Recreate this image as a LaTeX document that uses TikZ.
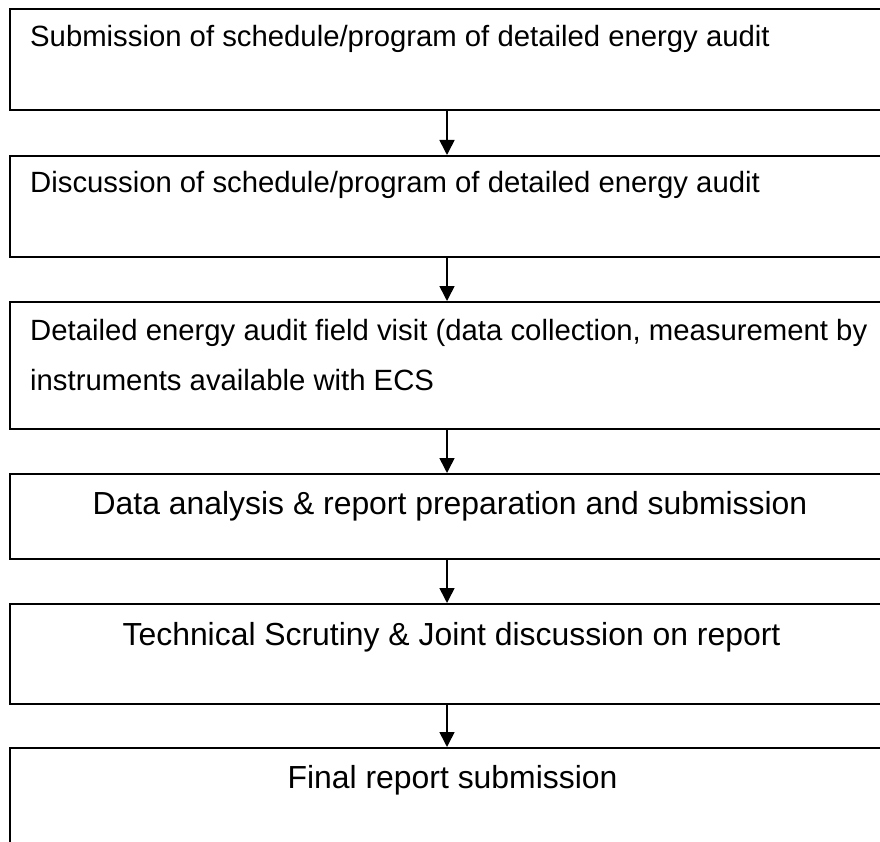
\documentclass[tikz,border=0pt]{standalone}
\usepackage{fontspec}
\setmainfont{Liberation Sans}
\usetikzlibrary{arrows.meta}
\begin{document}
\begin{tikzpicture}[x=1pt,y=-1pt,
  stepbox/.style={draw=black,line width=1.6pt,rectangle,anchor=north west,minimum width=900pt,inner sep=0pt},
  smalltxt/.style={inner sep=0pt,anchor=base west,font=\fontsize{29.3}{35}\selectfont},
  bigtxt/.style={inner sep=0pt,anchor=base,font=\fontsize{31.9}{38}\selectfont},
  arr/.style={line width=1.6pt,-{Triangle[width=15pt,length=15pt]}}]
\useasboundingbox (0,0) rectangle (880,842);
\clip (0,0) rectangle (880,842);
\node[stepbox,minimum height=101pt] (b1) at (9,8) {};
\node[stepbox,minimum height=101pt] (b2) at (9,155) {};
\node[stepbox,minimum height=127pt] (b3) at (9,301) {};
\node[stepbox,minimum height=85pt] (b4) at (9,473) {};
\node[stepbox,minimum height=100pt] (b5) at (9,603) {};
\node[stepbox,minimum height=160pt] (b6) at (9,747) {};
\coordinate (ax) at (447,0);
\node[smalltxt] (t1) at (30,47) {Submission of schedule/program of detailed energy audit};
\node[smalltxt] (t2) at (30,193) {Discussion of schedule/program of detailed energy audit};
\node[smalltxt] (t3a) at (30,340) {Detailed energy audit field visit (data collection, measurement by};
\node[smalltxt] (t3b) at (30,390) {instruments available with ECS};
\node[bigtxt] (t4) at (450,514) {Data analysis \& report preparation and submission};
\node[bigtxt] (t5) at (451.5,645) {Technical Scrutiny \& Joint discussion on report};
\node[bigtxt] (t6) at (452.5,788) {Final report submission};
\draw[arr] (b1.south -| ax) -- (b2.north -| ax);
\draw[arr] (b2.south -| ax) -- (b3.north -| ax);
\draw[arr] (b3.south -| ax) -- (b4.north -| ax);
\draw[arr] (b4.south -| ax) -- (b5.north -| ax);
\draw[arr] (b5.south -| ax) -- (b6.north -| ax);
\end{tikzpicture}
\end{document}
